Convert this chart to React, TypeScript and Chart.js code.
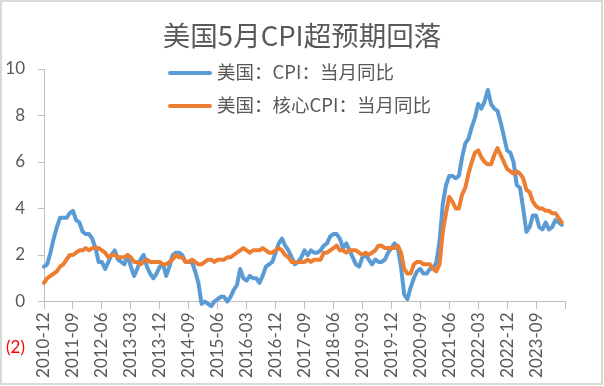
import React, { useEffect, useRef } from 'react';
import { Chart, registerables } from 'chart.js';

Chart.register(...registerables);

const TITLE = '美国5月CPI超预期回落';
const SERIES_NAMES = ['美国：CPI：当月同比', '美国：核心CPI：当月同比'];
const SERIES_COLORS = ['#5b9bd5', '#ed7d31'];

// Monthly categories start at 2010-12; the axis runs one month past the data (to 2024-06)
const START_YEAR = 2010;
const START_MONTH = 12;
const AXIS_MONTHS = 163;
const LABEL_STEP = 9;

// 美国：CPI：当月同比 (2010-12 .. 2024-05)
const cpiYoY = [
  1.5,
  1.6, 2.1, 2.7, 3.2, 3.6, 3.6, 3.6, 3.8, 3.9, 3.5, 3.4, 3.0,
  2.9, 2.9, 2.7, 2.3, 1.7, 1.7, 1.4, 1.7, 2.0, 2.2, 1.8, 1.7,
  1.6, 2.0, 1.5, 1.1, 1.4, 1.8, 2.0, 1.5, 1.2, 1.0, 1.2, 1.5,
  1.6, 1.1, 1.5, 2.0, 2.1, 2.1, 2.0, 1.7, 1.7, 1.7, 1.3, 0.8,
  -0.1, 0.0, -0.1, -0.2, 0.0, 0.1, 0.2, 0.2, 0.0, 0.2, 0.5, 0.7,
  1.4, 1.0, 0.9, 1.1, 1.0, 1.0, 0.8, 1.1, 1.5, 1.6, 1.7, 2.1,
  2.5, 2.7, 2.4, 2.2, 1.9, 1.6, 1.7, 1.9, 2.2, 2.0, 2.2, 2.1,
  2.1, 2.2, 2.4, 2.5, 2.8, 2.9, 2.9, 2.7, 2.3, 2.5, 2.2, 1.9,
  1.6, 1.5, 1.9, 2.0, 1.8, 1.6, 1.8, 1.7, 1.7, 1.8, 2.1, 2.3,
  2.5, 2.3, 1.5, 0.3, 0.1, 0.6, 1.0, 1.3, 1.4, 1.2, 1.2, 1.4,
  1.4, 1.7, 2.6, 4.2, 5.0, 5.4, 5.4, 5.3, 5.4, 6.2, 6.8, 7.0,
  7.5, 7.9, 8.5, 8.3, 8.6, 9.1, 8.5, 8.3, 8.2, 7.7, 7.1, 6.5,
  6.4, 6.0, 5.0, 4.9, 4.0, 3.0, 3.2, 3.7, 3.7, 3.2, 3.1, 3.4,
  3.1, 3.2, 3.5, 3.4, 3.3,
];

// 美国：核心CPI：当月同比 (2010-12 .. 2024-05)
const coreCpiYoY = [
  0.8,
  1.0, 1.1, 1.2, 1.3, 1.5, 1.6, 1.8, 2.0, 2.0, 2.1, 2.2, 2.2,
  2.3, 2.2, 2.3, 2.3, 2.3, 2.2, 2.1, 1.9, 2.0, 2.0, 1.9, 1.9,
  1.9, 2.0, 1.9, 1.7, 1.7, 1.6, 1.7, 1.8, 1.7, 1.7, 1.7, 1.7,
  1.6, 1.6, 1.7, 1.8, 2.0, 1.9, 1.9, 1.7, 1.7, 1.8, 1.7, 1.6,
  1.6, 1.7, 1.8, 1.8, 1.7, 1.8, 1.8, 1.8, 1.9, 1.9, 2.0, 2.1,
  2.2, 2.3, 2.2, 2.1, 2.2, 2.2, 2.2, 2.3, 2.2, 2.1, 2.1, 2.2,
  2.3, 2.2, 2.0, 1.9, 1.7, 1.7, 1.7, 1.7, 1.7, 1.8, 1.7, 1.8,
  1.8, 1.8, 2.1, 2.1, 2.2, 2.3, 2.4, 2.2, 2.2, 2.1, 2.2, 2.2,
  2.2, 2.1, 2.0, 2.1, 2.0, 2.1, 2.2, 2.4, 2.4, 2.3, 2.3, 2.3,
  2.3, 2.4, 2.1, 1.4, 1.2, 1.2, 1.6, 1.7, 1.7, 1.6, 1.6, 1.6,
  1.4, 1.3, 1.6, 3.0, 3.8, 4.5, 4.3, 4.0, 4.0, 4.6, 4.9, 5.5,
  6.0, 6.4, 6.5, 6.2, 6.0, 5.9, 5.9, 6.3, 6.6, 6.3, 6.0, 5.7,
  5.6, 5.5, 5.6, 5.5, 5.3, 4.8, 4.7, 4.3, 4.1, 4.0, 4.0, 3.9,
  3.9, 3.8, 3.8, 3.6, 3.4,
];

const Y_MIN = -2;
const Y_MAX = 10;
const Y_STEP = 2;

const categories: string[] = [];
for (let i = 0; i < AXIS_MONTHS; i++) {
  const m = START_MONTH - 1 + i;
  const y = START_YEAR + Math.floor(m / 12);
  const mm = (m % 12) + 1;
  categories.push(`${y}-${String(mm).padStart(2, '0')}`);
}

const FONT = 'Lato, "Noto Sans CJK SC", sans-serif';
const CJK_FONT = '"Noto Sans CJK SC", sans-serif';
const TEXT_COLOR = '#595959';
const AXIS_COLOR = '#bfbfbf';

const decorPlugin = {
  id: 'decor',
  beforeDatasetsDraw(chart: any) {
    const { ctx, chartArea, scales } = chart;
    const yS = scales.y;
    ctx.save();
    ctx.strokeStyle = AXIS_COLOR;
    ctx.lineWidth = 1;
    ctx.beginPath();
    const x = Math.round(chartArea.left) + 0.5;
    ctx.moveTo(x, yS.getPixelForValue(Y_MAX));
    ctx.lineTo(x, yS.getPixelForValue(0));
    ctx.stroke();
    ctx.restore();
  },
  afterDraw(chart: any) {
    const { ctx } = chart;
    ctx.save();
    // legend
    const rows = [73, 106];
    chart.data.datasets.forEach((ds: any, i: number) => {
      const y = rows[i];
      ctx.strokeStyle = ds.borderColor;
      ctx.lineWidth = 4;
      ctx.lineCap = 'round';
      ctx.beginPath();
      ctx.moveTo(170, y);
      ctx.lineTo(210, y);
      ctx.stroke();
      ctx.fillStyle = TEXT_COLOR;
      ctx.font = `18.5px ${CJK_FONT}`;
      ctx.textBaseline = 'middle';
      ctx.textAlign = 'left';
      ctx.fillText(ds.label, 217, y - 1);
    });
    // chart border
    ctx.strokeStyle = '#d9d9d9';
    ctx.lineWidth = 2;
    ctx.lineCap = 'butt';
    ctx.strokeRect(1, 1, 601, 383);
    ctx.restore();
  },
};

export default function App() {
  const canvasRef = useRef<HTMLCanvasElement | null>(null);

  useEffect(() => {
    if (!canvasRef.current) return;
    const chart = new Chart(canvasRef.current, {
      type: 'line',
      data: {
        labels: categories,
        datasets: [
          {
            label: SERIES_NAMES[0],
            data: cpiYoY,
            borderColor: SERIES_COLORS[0],
            backgroundColor: SERIES_COLORS[0],
            borderWidth: 4,
            pointRadius: 0,
            tension: 0,
            borderJoinStyle: 'round',
            borderCapStyle: 'round',
            order: 1,
          },
          {
            label: SERIES_NAMES[1],
            data: coreCpiYoY,
            borderColor: SERIES_COLORS[1],
            backgroundColor: SERIES_COLORS[1],
            borderWidth: 4,
            pointRadius: 0,
            tension: 0,
            borderJoinStyle: 'round',
            borderCapStyle: 'round',
            order: 0,
          },
        ],
      },
      options: {
        animation: false,
        responsive: true,
        maintainAspectRatio: false,
        layout: { padding: { left: 0, right: 0, top: 0, bottom: 38 } },
        plugins: {
          legend: { display: false },
          tooltip: { enabled: false },
          title: {
            display: true,
            text: TITLE,
            color: TEXT_COLOR,
            font: { family: CJK_FONT, size: 27.5, weight: 'normal', lineHeight: 1.2 },
            padding: { top: 19.5, bottom: 16.5 },
          },
        },
        scales: {
          x: {
            type: 'category',
            position: { y: 0 } as any,
            offset: false,
            border: { display: true, color: AXIS_COLOR },
            grid: {
              drawOnChartArea: false,
              drawTicks: true,
              tickLength: 7,
              color: (ctx: any) => (ctx.index % LABEL_STEP === 0 ? AXIS_COLOR : 'rgba(0,0,0,0)'),
            },
            ticks: {
              autoSkip: false,
              minRotation: 90,
              maxRotation: 90,
              padding: 4,
              color: TEXT_COLOR,
              font: { family: FONT, size: 17 },
              callback: (_v: any, i: number) =>
                i % LABEL_STEP === 0 && i < cpiYoY.length ? categories[i] : '',
            },
          },
          y: {
            min: Y_MIN,
            max: Y_MAX,
            border: { display: false },
            afterFit: (s: any) => {
              s.width = 44;
            },
            grid: {
              drawOnChartArea: false,
              drawTicks: true,
              tickLength: 6,
              color: (ctx: any) => (ctx.tick && ctx.tick.value < 0 ? 'rgba(0,0,0,0)' : AXIS_COLOR),
            },
            ticks: {
              stepSize: Y_STEP,
              padding: 13,
              color: (ctx: any) => (ctx.tick && ctx.tick.value < 0 ? '#ff0000' : TEXT_COLOR),
              font: { family: FONT, size: 17 },
              callback: (v: any) => (Number(v) < 0 ? `(${-Number(v)})` : `${v}`),
            },
          },
          // empty right-hand spacer so the plot ends where the reference's does
          spacer: {
            type: 'linear',
            position: 'right',
            display: true,
            border: { display: false },
            grid: { display: false, drawOnChartArea: false, drawTicks: false },
            ticks: { display: false },
            afterFit: (s: any) => {
              s.width = 39;
            },
          },
        },
      },
      plugins: [decorPlugin],
    } as any);
    return () => chart.destroy();
  }, []);

  return (
    <div style={{ position: 'absolute', left: 0, top: 0, width: 604, height: 386, background: '#fff' }}>
      <canvas ref={canvasRef} />
    </div>
  );
}
